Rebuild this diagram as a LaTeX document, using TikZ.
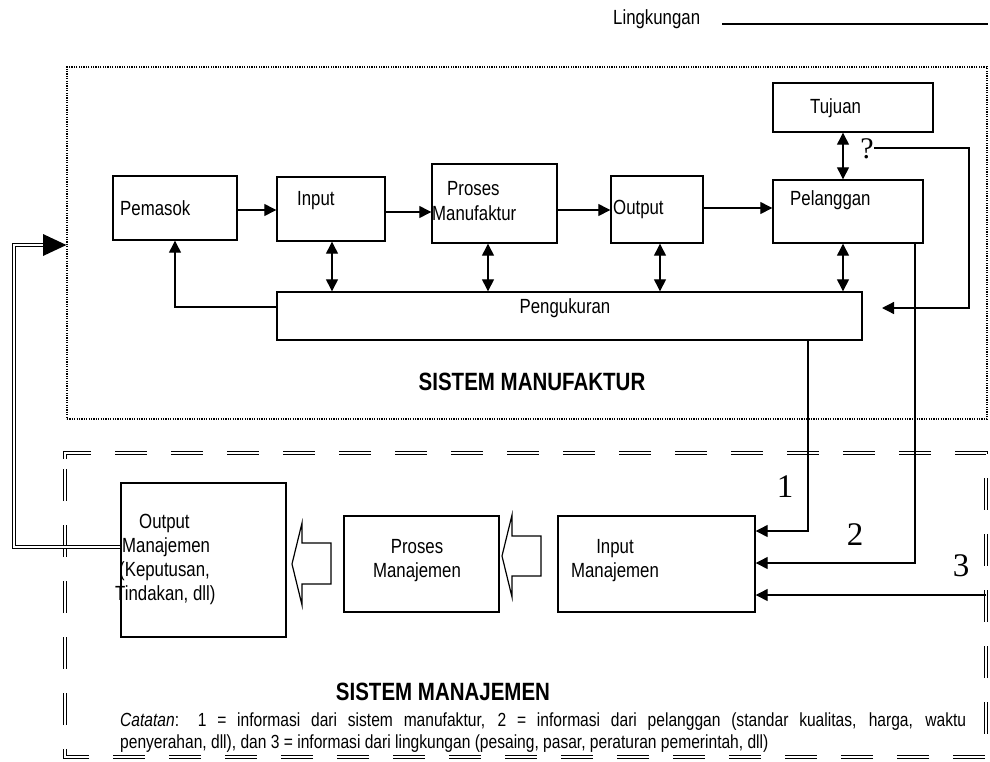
\documentclass[tikz,border=0pt]{standalone}
\usepackage{fontspec}
\setmainfont{Liberation Sans}[FakeStretch=0.82]
\newfontfamily\numfont{Liberation Serif}
\usetikzlibrary{arrows.meta,fit}
\begin{document}
\begin{tikzpicture}[x=1pt,y=-1pt,
  txt/.style={font=\fontsize{20.5pt}{24pt}\selectfont, inner sep=0pt},
  note/.style={font=\fontsize{19pt}{22pt}\selectfont, inner sep=0pt, anchor=base west},
  title/.style={font=\fontsize{25pt}{28pt}\selectfont\bfseries, inner sep=0pt},
  num/.style={font=\fontsize{33pt}{36pt}\selectfont\numfont, inner sep=0pt},
  box/.style={draw, line width=1.4pt, inner sep=0pt},
  arr/.style={line width=1.3pt, -{Triangle[length=12pt,width=12pt]}},
  darr/.style={line width=1.3pt, {Triangle[length=12pt,width=12pt]}-{Triangle[length=12pt,width=12pt]}},
  dbl/.style={double, line width=1.2pt, double distance=2.4pt},
  hollow/.style={draw, line width=1.2pt, fill=white, line join=miter}
]
\useasboundingbox (0,0) rectangle (990,761);

% environment legend
\node[txt, anchor=base west] (lingk) at (613,24) {Lingkungan};
\coordinate (lingkend) at (988,24);
\draw[line width=1.2pt] (722,24) -- (lingkend);

% manufacturing system frame
\node[draw, line width=1.2pt, dash pattern=on 1.2pt off 1.2pt, inner sep=0pt,
      fit={(67,67) (987,419)}] (manuf) {};

% manufacturing blocks
\node[box, fit={(113,176) (237,240)}] (pemasok) {};
\node[box, fit={(277,177) (385,241)}] (input) {};
\node[box, fit={(432,164) (557,243)}] (proses) {};
\node[box, fit={(611,176) (703,243)}] (output) {};
\node[box, fit={(773,180) (923,243)}] (pelanggan) {};
\node[box, fit={(773,83) (933,132)}] (tujuan) {};
\node[box, fit={(277,292) (862,340)}] (pengukuran) {};

\node[txt, anchor=base west] at (120,215) {Pemasok};
\node[txt, anchor=base west] at (297,205) {Input};
\node[txt, anchor=base west] at (447,195) {Proses};
\node[txt, anchor=base west] at (432,220) {Manufaktur};
\node[txt, anchor=base west] at (613,214) {Output};
\node[txt, anchor=base west] at (790,205) {Pelanggan};
\node[txt, anchor=base west] at (810,113) {Tujuan};
\node[txt, anchor=base] at (565,313) {Pengukuran};
\node[title, anchor=base] at (532,390) {SISTEM MANUFAKTUR};

% material flow
\coordinate (ya) at (0,210);
\coordinate (yb) at (0,212);
\coordinate (yc) at (0,208);
\draw[arr] (pemasok.east |- ya) -- (input.west |- ya);
\draw[arr] (input.east |- yb) -- (proses.west |- yb);
\draw[arr] (proses.east |- ya) -- (output.west |- ya);
\draw[arr] (output.east |- yc) -- (pelanggan.west |- yc);

% measurement links
\coordinate (xin) at (332,0);
\coordinate (xpr) at (488,0);
\coordinate (xou) at (660,0);
\coordinate (xpe) at (843,0);
\draw[darr] (xin |- input.south) -- (xin |- pengukuran.north);
\draw[darr] (xpr |- proses.south) -- (xpr |- pengukuran.north);
\draw[darr] (xou |- output.south) -- (xou |- pengukuran.north);
\draw[darr] (xpe |- pelanggan.south) -- (xpe |- pengukuran.north);
\draw[darr] (xpe |- tujuan.south) -- (xpe |- pelanggan.north);

% feedback to supplier
\coordinate (yfb) at (0,307);
\draw[arr] (pengukuran.west |- yfb) -| (pemasok.south);

% goal comparison loop
\node[num, font=\fontsize{30pt}{32pt}\selectfont\numfont] (qmark) at (867,149) {?};
\coordinate (qturn) at (969,308);
\coordinate (qend) at (882,308);
\draw[arr] (qmark.east |- 0,148) -| (qturn) -- (qend);

% management system frame
\draw[dbl, dash pattern=on 32pt off 24pt]
  (65,459) -- (65,453) -- (986,453) -- (986,757) -- (65,757) -- cycle;

% management blocks
\node[box, fit={(121,483) (286,637)}] (outman) {};
\node[box, fit={(344,516) (499,612)}] (prosman) {};
\node[box, fit={(558,516) (755,612)}] (inman) {};

\node[txt, anchor=base west] at (139,528) {Output};
\node[txt, anchor=base west] at (122,552) {Manajemen};
\node[txt, anchor=base west] at (119,576) {(Keputusan,};
\node[txt, anchor=base west] at (115,600) {Tindakan, dll)};
\node[txt, anchor=base] at (417,553) {Proses};
\node[txt, anchor=base] at (417,577) {Manajemen};
\node[txt, anchor=base] at (615,553) {Input};
\node[txt, anchor=base] at (615,577) {Manajemen};
\node[title, anchor=base] at (443,700) {SISTEM MANAJEMEN};

% information flows into management
\coordinate (l1) at (808,531);
\coordinate (l2) at (915,563);
\coordinate (l3) at (986,595);
\draw[arr] (l1 |- pengukuran.south) -- (l1) -- (l1 -| inman.east);
\draw[arr] (l2 |- pelanggan.south) -- (l2) -- (l2 -| inman.east);
\draw[arr] (l3) -- (l3 -| inman.east);
\node[num] at (785,487) {1};
\node[num] at (855,535) {2};
\node[num] at (961,566) {3};

% hollow block arrows between management stages
\draw[hollow] (292,564) -- (302,523) -- (302,543) -- (331,543) -- (331,584)
  -- (302,584) -- (302,605) -- cycle;
\draw[hollow] (502,556) -- (512,515) -- (512,536) -- (541,536) -- (541,576)
  -- (512,576) -- (512,597) -- cycle;

% decisions fed back to the manufacturing system
\coordinate (fbtip) at (manuf.west |- 0,245);
\coordinate (fbcorner) at (14,245);
\draw[dbl] (outman.west |- 0,547) -| (fbcorner) -- (45,245);
\fill (fbtip) -- (43,234) -- (43,256) -- cycle;

% note
\node[note] at (120,726)
  {\makebox[846pt][s]{\textit{Catatan}: 1 = informasi dari sistem manufaktur, 2 = informasi dari pelanggan (standar kualitas, harga, waktu}};
\node[note] at (120,748)
  {penyerahan, dll), dan 3 = informasi dari lingkungan (pesaing, pasar, peraturan pemerintah, dll)};
\end{tikzpicture}
\end{document}
